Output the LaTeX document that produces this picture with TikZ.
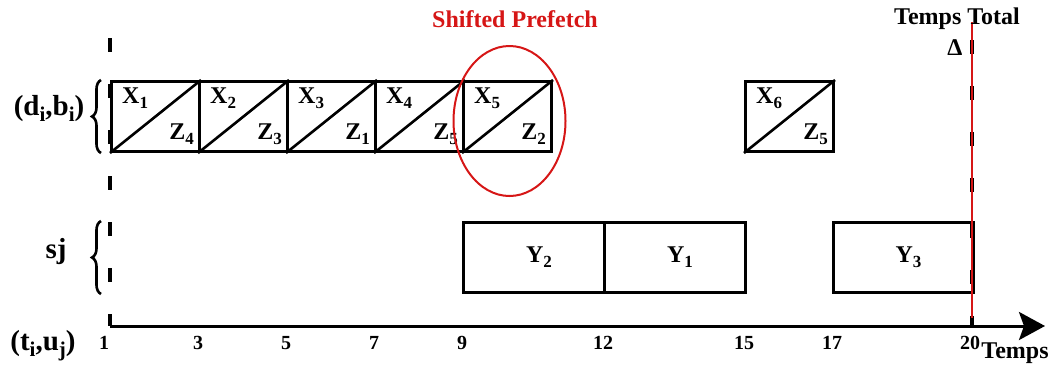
\documentclass[tikz,border=0pt]{standalone}
\usepackage{fontspec}
\setmainfont{Liberation Serif}
\usetikzlibrary{arrows.meta,positioning,calc,decorations.pathreplacing}
\definecolor{prefred}{RGB}{214,22,22}
\newcommand{\subs}[1]{\raisebox{-5pt}{\fontsize{17}{18}\selectfont #1}}
\newcommand{\sidesubs}[1]{\raisebox{-6pt}{\fontsize{21}{22}\selectfont #1}}
\newcommand{\cellfont}{\fontsize{24}{28}\selectfont\bfseries}
\newcommand{\sidefont}{\fontsize{29}{33}\selectfont\bfseries}
\newcommand{\tickfont}{\fontsize{20}{24}\selectfont\bfseries}

\begin{document}
\begin{tikzpicture}[x=1pt, y=-1pt,
  cellbox/.style={draw, line width=3pt, minimum height=70pt, inner sep=0pt, anchor=north west},
  cellline/.style={line width=2.6pt},
  axisdash/.style={line width=3.2pt, dash pattern=on 14pt off 32pt},
  sidebrace/.style={decorate, decoration={brace, amplitude=9pt}, line width=2.6pt},
  lab/.style={inner sep=0pt, font=\cellfont}]
\useasboundingbox (0,0) rectangle (1054,378);

% Time ticks
\foreach \t/\px in {1/110,3/198,5/286,7/374,9/462,12/603,15/744,17/832,20/972}
  \coordinate (t\t) at (\px,326);
\coordinate (tend) at (1045,326);
\coordinate (dtop) at (110,38);
\coordinate (ttop) at (972,40);
\coordinate (redtop) at (972,22);
\coordinate (redbot) at (972,318);

% Dashed limits
\draw[axisdash] (dtop) -- (t1);
\draw[axisdash] (ttop) -- (t20);

% Axis
\draw[line width=3pt, -{Stealth[length=26pt, width=28pt, inset=5pt]}] (t1) -- (tend);
\node[lab, anchor=base] (temps) at (1015,358) {Temps};
\foreach \t/\dx in {1/-6,3/0,5/0,7/0,9/0,12/0,15/0,17/0,20/-2}
  \node[inner sep=0pt, font=\tickfont, anchor=base] (n\t) at ($(t\t)+(\dx,23)$) {\t};

% Prefetch cells
\foreach \i/\z in {1/4,2/3,3/1,4/5,5/2}{
  \node[cellbox, minimum width=88pt] (b\i) at ({110+88*(\i-1)},80) {};
  \draw[cellline] (b\i.south west) -- (b\i.north east);
  \node[lab, anchor=north west] (x\i) at ([shift={(12pt,-8pt)}]b\i.north west) {X\subs{\i}};
  \node[lab, anchor=south east] (z\i) at ([shift={(-7pt,8pt)}]b\i.south east) {Z\subs{\z}};
}
\node[cellbox, minimum width=88pt] (b6) at (744,80) {};
\draw[cellline] (b6.south west) -- (b6.north east);
\node[lab, anchor=north west] (x6) at ([shift={(12pt,-8pt)}]b6.north west) {X\subs{6}};
\node[lab, anchor=south east] (z6) at ([shift={(-7pt,8pt)}]b6.south east) {Z\subs{5}};

% Service cells
\node[cellbox, minimum width=141pt] (y2) at (462,221) {};
\node[cellbox, minimum width=141pt] (y1) at (603,221) {};
\node[cellbox, minimum width=140pt] (y3) at (832,221) {};
\node[lab] (ly2) at ([xshift=5pt]y2) {Y\subs{2}};
\node[lab] (ly1) at ([xshift=5pt]y1) {Y\subs{1}};
\node[lab] (ly3) at ([xshift=5pt]y3) {Y\subs{3}};

% Braces and row labels
\draw[sidebrace] ([xshift=-9pt]b1.south west) -- ([xshift=-9pt]b1.north west);
\draw[sidebrace] ($(t1 |- y2.south)+(-9,0)$) -- ($(t1 |- y2.north)+(-9,0)$);
\node[inner sep=0pt, font=\sidefont, anchor=base] (dlab) at (49,115) {(d\sidesubs{i},b\sidesubs{i})};
\node[inner sep=0pt, font=\sidefont, anchor=base] (slab) at (56,258) {sj};
\node[inner sep=0pt, font=\sidefont, anchor=base] (tlab) at (43,350) {(t\sidesubs{i},u\sidesubs{j})};

% Shifted prefetch
\draw[prefred, line width=2pt] ([shift={(2pt,-4.5pt)}]b5.center) ellipse [x radius=56pt, y radius=75pt];
\node[lab, text=prefred, anchor=base] (shift) at (515,27) {Shifted Prefetch};

% Total time
\draw[prefred, line width=1.2pt] (redtop) -- (redbot);
\node[lab, anchor=base] (total) at (957,24) {Temps Total};
\node[lab, anchor=base] (delta) at (955,55) {Δ};
\end{tikzpicture}
\end{document}
